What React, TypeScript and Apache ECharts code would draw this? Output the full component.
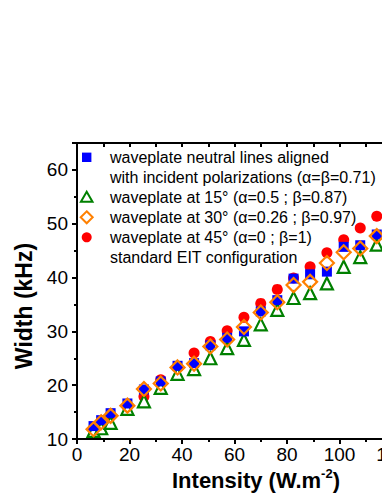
import React, { useEffect, useRef } from "react";
import * as echarts from "echarts";

const intensity = [6.3, 9.2, 12.8, 19.2, 25.5, 31.9, 38.3, 44.6, 50.8, 57.2, 63.6, 70.0, 76.3, 82.5, 88.8, 95.2, 101.6, 107.9, 114.2];
const widthAligned = [12.4, 13.5, 14.8, 16.6, 19.2, 20.7, 23.6, 24.1, 27.4, 28.8, 30.0, 33.7, 35.8, 39.8, 40.6, 41.1, 45.7, 46.0, 48.0];
const width15 = [11.5, 12.0, 13.0, 15.6, 17.0, 19.5, 22.1, 23.0, 25.0, 26.9, 28.4, 31.3, 34.0, 36.2, 37.1, 38.9, 42.0, 43.8, 46.1];
const width30 = [11.8, 13.1, 14.3, 16.2, 19.3, 20.3, 23.3, 24.0, 27.2, 28.5, 30.8, 33.5, 35.4, 38.6, 39.2, 42.7, 44.7, 45.4, 47.7];
const width45 = [11.8, 13.0, 14.5, 16.0, 17.9, 21.0, 23.4, 26.0, 28.1, 30.1, 32.6, 35.2, 37.8, 39.9, 42.0, 44.6, 47.0, 49.2, 51.4];

const legendLines = [
  "waveplate neutral lines aligned",
  "with incident polarizations (α=β=0.71)",
  "waveplate at 15° (α=0.5 ; β=0.87)",
  "waveplate at 30° (α=0.26 ; β=0.97)",
  "waveplate at 45° (α=0 ; β=1)",
  "standard EIT configuration",
];

const BLUE = "#0000ff";
const GREEN = "#008000";
const ORANGE = "#ff8000";
const RED = "#ff0000";
const FONT = "Arial, 'Liberation Sans', sans-serif";

function pairs(ys: number[]) {
  return intensity.map((x, i) => [x, ys[i]]);
}

export default function App() {
  const ref = useRef<HTMLDivElement>(null);
  useEffect(() => {
    if (!ref.current) return;
    const chart = echarts.init(ref.current, null, { renderer: "svg" });
    const axisLine = { show: true, lineStyle: { color: "#000", width: 2 } };
    const lx = 86.7;
    const ly = [157.3, 177.3, 197.3, 217.3, 237.3, 257.3];
    const graphics: any[] = [
      { type: "rect", shape: { x: lx - 4.7, y: ly[0] - 4.7, width: 9.4, height: 9.4 }, style: { fill: BLUE } },
      { type: "polygon", shape: { points: [[lx, ly[2] - 5.5], [lx + 5.8, ly[2] + 4.5], [lx - 5.8, ly[2] + 4.5]] }, style: { fill: "#fff", stroke: GREEN, lineWidth: 2 } },
      { type: "polygon", shape: { points: [[lx, ly[3] - 6], [lx + 6, ly[3]], [lx, ly[3] + 6], [lx - 6, ly[3]]] }, style: { fill: "#fff", stroke: ORANGE, lineWidth: 2 } },
      { type: "circle", shape: { cx: lx, cy: ly[4], r: 5 }, style: { fill: RED } },
      ...legendLines.map((t, i) => ({
        type: "text",
        x: 110,
        y: ly[i],
        style: { text: t, fontSize: 16, fontFamily: FONT, fill: "#000", verticalAlign: "middle", align: "left" },
      })),
      {
        type: "text",
        x: 24,
        y: 306,
        rotation: Math.PI / 2,
        style: { text: "Width (kHz)", fontSize: 23, fontWeight: "bold", fontFamily: FONT, fill: "#000", align: "center", verticalAlign: "middle" },
      },
      {
        type: "text",
        x: 172,
        y: 480,
        style: {
          text: "{a|Intensity (W.m}{s|-2}{a|)}",
          fontFamily: FONT,
          fill: "#000",
          align: "left",
          verticalAlign: "middle",
          rich: {
            a: { fontSize: 22, fontWeight: "bold", fontFamily: FONT, fill: "#000", lineHeight: 26 },
            s: { fontSize: 13, fontWeight: "bold", fontFamily: FONT, fill: "#000", verticalAlign: "top", lineHeight: 26 },
          },
        },
      },
    ];
    chart.setOption({
      animation: false,
      grid: { left: 77, top: 143, width: 315, height: 296 },
      xAxis: [
        {
          type: "value", position: "bottom", min: 0, max: 120, interval: 20,
          axisLine, splitLine: { show: false },
          axisTick: { show: true, inside: false, length: 5, lineStyle: { width: 2, color: "#000" } },
          minorTick: { show: true, splitNumber: 2, length: 3, lineStyle: { width: 2, color: "#000" } },
          axisLabel: { fontSize: 19, color: "#000", fontFamily: FONT, margin: 6 },
        },
        {
          type: "value", position: "top", min: 0, max: 120, interval: 10,
          axisLine, splitLine: { show: false },
          axisTick: { show: true, inside: true, length: 4, lineStyle: { width: 2, color: "#000" } },
          axisLabel: { show: false },
        },
      ],
      yAxis: [
        {
          type: "value", min: 10, max: 65, interval: 10,
          axisLine, splitLine: { show: false },
          axisTick: { show: true, inside: false, length: 5, lineStyle: { width: 2, color: "#000" } },
          minorTick: { show: true, splitNumber: 2, length: 3, lineStyle: { width: 2, color: "#000" } },
          axisLabel: { fontSize: 19, color: "#000", fontFamily: FONT, margin: 9, formatter: (v: number) => (v === 65 ? "" : String(v)) },
        },
      ],
      series: [
        { type: "scatter", name: "45", data: pairs(width45), symbol: "circle", symbolSize: 11, itemStyle: { color: RED, opacity: 1 }, silent: true },
        { type: "scatter", name: "15", data: pairs(width15), symbol: "triangle", symbolSize: 12, itemStyle: { color: "#fff", borderColor: GREEN, borderWidth: 2.2, opacity: 1 }, silent: true },
        { type: "scatter", name: "aligned", data: pairs(widthAligned), symbol: "rect", symbolSize: 10, itemStyle: { color: BLUE, opacity: 1 }, silent: true },
        { type: "scatter", name: "30", data: pairs(width30), symbol: "diamond", symbolSize: 14, itemStyle: { color: "transparent", borderColor: ORANGE, borderWidth: 2.2, opacity: 1 }, silent: true },
      ],
      graphic: graphics,
    });
    return () => chart.dispose();
  }, []);
  return (
    <div style={{ position: "fixed", left: 0, top: 0, width: 382, height: 494, overflow: "hidden", background: "#fff" }}>
      <div ref={ref} style={{ width: 430, height: 494 }} />
    </div>
  );
}
